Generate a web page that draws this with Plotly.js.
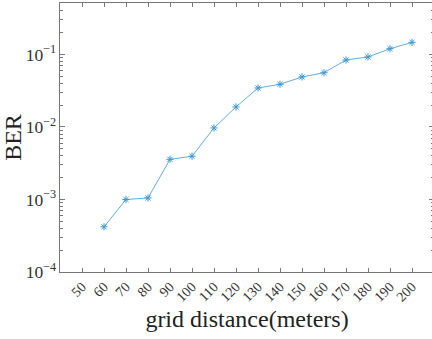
<!DOCTYPE html>
<html><head><meta charset="utf-8">
<script src="https://cdn.plot.ly/plotly-3.0.1.min.js"></script>
<style>html,body{margin:0;padding:0;overflow:hidden;background:#fff}#c{width:436px;height:339px}</style>
</head><body><div id="c"></div>
<script>
const distances = [60, 70, 80, 90, 100, 110, 120, 130, 140, 150, 160, 170, 180, 190, 200];
const ber = [4.2e-4, 1.0e-3, 1.05e-3, 3.58e-3, 3.95e-3, 9.7e-3, 0.0189, 0.0345, 0.0388, 0.049, 0.056, 0.084, 0.0925, 0.120, 0.147];
const xTicks = [50, 60, 70, 80, 90, 100, 110, 120, 130, 140, 150, 160, 170, 180, 190, 200];

const font = "Liberation Serif, Times New Roman, serif";
const trace = {
  x: distances, y: ber, type: 'scatter', mode: 'lines+markers',
  line: {color: '#3b97d3', width: 0.8},
  marker: {symbol: 'asterisk-open', size: 6, color: '#3b97d3', line: {color: '#3b97d3', width: 1}},
  hoverinfo: 'none'
};
const layout = {
  width: 436, height: 339,
  margin: {l: 60, r: 2, t: 3, b: 67},
  paper_bgcolor: '#fff', plot_bgcolor: '#fff',
  showlegend: false,
  font: {family: font, color: '#333'},
  xaxis: {
    range: [40, 210], tickvals: xTicks, ticktext: xTicks.map(String),
    tickangle: -45, ticks: 'inside', ticklen: 4, tickcolor: '#777',
    showline: true, linecolor: '#777', linewidth: 1, mirror: 'ticks',
    showgrid: false, zeroline: false,
    tickfont: {family: font, size: 14, color: '#333'},
    title: {text: 'grid distance(meters)', font: {family: font, size: 24, color: '#222'}, standoff: 6}
  },
  yaxis: {
    type: 'log', range: [-4, -0.29], dtick: 1, exponentformat: 'power',
    ticks: 'inside', ticklen: 5, tickcolor: '#777',
    minor: {ticks: 'inside', ticklen: 3, tickcolor: '#777', showgrid: false},
    showline: true, linecolor: '#777', linewidth: 1, mirror: 'ticks',
    showgrid: false, zeroline: false,
    tickfont: {family: font, size: 14, color: '#333'},
    title: {text: 'BER', font: {family: font, size: 24, color: '#222'}, standoff: 4}
  }
};
Plotly.newPlot('c', [trace], layout, {staticPlot: true, displayModeBar: false});
</script></body></html>
